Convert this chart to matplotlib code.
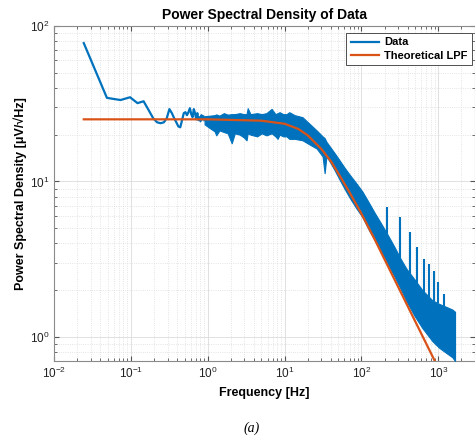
import numpy as np
import matplotlib
matplotlib.use("Agg")
import matplotlib.pyplot as plt

plt.rcParams['font.family'] = ['Liberation Sans', 'DejaVu Sans']

# low-frequency part of the measured PSD (single bins, df ~ 0.0244 Hz)
df = 0.0244
low_bins = np.arange(1, 38)
low_psd = [77.6, 34.5, 33.4, 34.8, 31.9, 32.8, 28.7, 25.5, 24.0, 23.7,
           24.0, 25.5, 29.2, 27.5, 25.5, 24.0, 22.6, 22.3, 24.8, 27.5,
           27.9, 26.7, 27.9, 29.6, 27.1, 25.9, 29.2, 27.5, 25.1, 27.5,
           24.8, 25.9, 24.4, 26.7, 25.1, 26.3, 24.8]

# dense part of the PSD: envelope of the noisy band
band_f = [0.91, 1.07, 1.23, 1.29, 1.42, 1.62, 1.82, 2.05, 2.25, 2.61,
          2.95, 3.20, 3.31, 3.6, 4.4, 5.03, 5.8, 6.78, 7.6, 8.1,
          8.61, 9.6, 10.6, 11.5, 13.5, 17.1, 21.1, 26.1, 31.2, 33.2,
          35.0, 38.4, 44.8, 51.8, 60, 69.8, 86.1, 103, 127, 148,
          171, 211, 268, 321, 384, 488, 620, 836, 1030, 1309,
          1521, 1650]
band_hi = [26.3, 26.5, 26.7, 27.0, 26.5, 27.5, 26.9, 27.1, 27.1, 27.5,
           27.1, 27.1, 29.6, 27.1, 27.5, 27.1, 27.5, 29.3, 27.1, 27.5,
           27.9, 27.1, 27.1, 27.9, 26.7, 25.9, 23.5, 21.3, 19.5, 19.0,
           18.0, 16.9, 15.2, 13.7, 12.3, 11.1, 9.7, 8.6, 7.2, 6.3,
           5.6, 4.7, 3.8, 3.2, 2.75, 2.35, 2.0, 1.72, 1.63, 1.55,
           1.50, 1.45]
band_lo = [23.3, 22.0, 21.0, 19.8, 21.3, 20.8, 20.4, 17.6, 20.4, 20.0,
           19.2, 18.4, 20.4, 20.0, 19.5, 20.4, 19.8, 20.4, 19.5, 18.8,
           20.0, 19.5, 19.5, 18.8, 18.8, 18.4, 17.3, 16.3, 14.5, 11.3,
           14.5, 13.5, 11.8, 10.3, 9.0, 7.9, 6.7, 5.9, 4.8, 4.25,
           3.7, 3.05, 2.45, 2.05, 1.7, 1.37, 1.14, 0.94, 0.85, 0.78,
           0.74, 0.70]

# narrow peaks sticking out of the band at high frequency
spike_f = [218, 321, 432, 533, 650, 755, 870, 1000, 1200]
spike_v = [6.8, 5.9, 4.7, 3.8, 3.15, 2.95, 2.65, 2.25, 1.9]

# theoretical low-pass filter curve
lpf_f = [0.0244, 1, 5, 10, 15, 20, 30, 40, 52, 70, 100, 150, 200, 300,
         500, 700, 900, 1200, 1650]
lpf_v = [25.1, 25.1, 24.6, 23.5, 21.8, 19.8, 16.2, 13.5, 10.9, 8.5, 6.2,
         4.2, 3.15, 2.1, 1.26, 0.9, 0.70, 0.52, 0.38]

blue = '#0072BD'
orange = '#D95319'

fig = plt.figure(figsize=(4.75, 4.42), dpi=100)
ax = fig.add_axes([54 / 475, 81 / 442, 421 / 475, 335 / 442])
ax.set_axisbelow(True)

ax.plot(low_bins * df, low_psd, color=blue, lw=1.6, label='Data', zorder=3)
ax.fill_between(band_f, band_lo, band_hi, color=blue, lw=0.8, edgecolor=blue, zorder=3)
base = np.exp(np.interp(np.log(spike_f), np.log(band_f), np.log(band_hi)))
ax.vlines(spike_f, base, spike_v, color=blue, lw=1.5, zorder=3)
ax.plot(lpf_f, lpf_v, color=orange, lw=1.6, label='Theoretical LPF', zorder=4)

ax.set_xscale('log')
ax.set_yscale('log')
ax.set_xlim(0.01, 3000)
ax.set_ylim(0.7, 100)

ax.grid(True, which='major', color='#dcdcdc', lw=0.6)
ax.grid(True, which='minor', color='#dcdcdc', lw=0.6, ls=':')
ax.tick_params(which='both', direction='in', top=True, right=True,
               colors='#555555', labelcolor='#222222', labelsize=8.5)
ax.tick_params(which='major', length=3.5)
ax.tick_params(which='minor', length=2)
for s in ax.spines.values():
    s.set_color('#8a8a8a')
    s.set_linewidth(0.8)

ax.set_title('Power Spectral Density of Data', fontsize=10, fontweight='bold', pad=5)
ax.set_xlabel('Frequency [Hz]', fontsize=9, fontweight='bold', labelpad=4)
ax.set_ylabel('Power Spectral Density [\u03bcV/\u221aHz]', fontsize=9,
              fontweight='bold', labelpad=2)

leg = ax.legend(loc='upper right', bbox_to_anchor=(0.993, 0.979), borderaxespad=0,
                fancybox=False, framealpha=1, edgecolor='#333333',
                prop={'size': 8, 'weight': 'bold'}, handlelength=2.5,
                borderpad=0.4, labelspacing=0.3, handletextpad=0.5)
leg.get_frame().set_linewidth(0.6)

fig.text(252 / 475, 7 / 442, '(a)', fontsize=10, style='italic',
         family=['Liberation Serif', 'DejaVu Serif'], ha='center', va='bottom')

fig.savefig('out.png', dpi=100)
